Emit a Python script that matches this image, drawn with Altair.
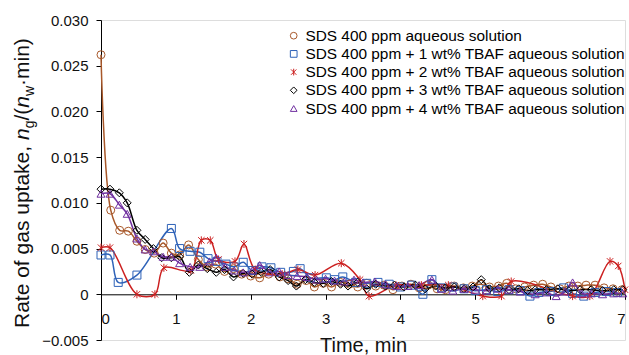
import altair as alt
import pandas as pd

series_names = [
    "SDS 400 ppm aqueous solution",
    "SDS 400 ppm + 1 wt% TBAF aqueous solution",
    "SDS 400 ppm + 2 wt% TBAF aqueous solution",
    "SDS 400 ppm + 3 wt% TBAF aqueous solution",
    "SDS 400 ppm + 4 wt% TBAF aqueous solution",
]

t_sds = [0, 0.13, 0.25, 0.365, 0.48, 0.59, 0.71, 0.83, 0.94, 1.05,
         1.17, 1.3, 1.42, 1.53, 1.65, 1.77, 1.88, 2.0, 2.12, 2.24,
         2.39, 2.5, 2.62, 2.74, 2.85, 2.97, 3.08, 3.2, 3.32, 3.43,
         3.55, 3.67, 3.78, 3.9, 4.02, 4.14, 4.25, 4.37, 4.49, 4.6,
         4.72, 4.84, 4.96, 5.07, 5.19, 5.31, 5.42, 5.54, 5.66, 5.78,
         5.9, 6.01, 6.13, 6.25, 6.37, 6.48, 6.6, 6.72, 6.84, 6.96]
v_sds = [0.0262, 0.0092, 0.0070, 0.0069, 0.0058, 0.0049, 0.0045, 0.0056, 0.0045, 0.0043,
         0.0054, 0.0038, 0.0030, 0.0033, 0.0025, 0.0028, 0.0022, 0.0020, 0.0018, 0.0022,
         0.0019, 0.0017, 0.0011, 0.0015, 0.0008, 0.0012, 0.0008, 0.0013, 0.0011, 0.0008,
         0.0012, 0.0009, 0.0010, 0.0005, 0.0009, 0.0011, 0.0007, 0.0010, 0.0006, 0.0005,
         0.0009, 0.0007, 0.0009, 0.0011, 0.0008, 0.0009, 0.0012, 0.0006, 0.0008, 0.0010,
         0.0011, 0.0008, 0.0006, 0.0009, 0.0009, 0.0010, 0.0010, 0.0007, 0.0006, 0.0005]

t_1 = [0, 0.12, 0.23, 0.48, 0.94, 1.05, 1.19, 1.32, 1.43, 1.55,
       1.67, 1.78, 1.9, 2.02, 2.15, 2.27, 2.4, 2.57, 2.66, 2.8,
       3.01, 3.12, 3.23, 3.4, 3.55, 3.7, 3.85, 4.0, 4.15, 4.3,
       4.42, 4.55, 4.7, 4.85, 5.0, 5.15, 5.3, 5.45, 5.6, 5.73,
       5.85, 6.0, 6.18, 6.3, 6.45, 6.6, 6.75, 6.9]
v_1 = [0.0043, 0.0043, 0.0013, 0.0021, 0.0072, 0.0050, 0.0047, 0.0046, 0.0039, 0.0036,
       0.0033, 0.0030, 0.0035, 0.0026, 0.0030, 0.0029, 0.0024, 0.0025, 0.0028, 0.0018,
       0.0018, 0.0016, 0.0019, 0.0013, 0.0012, 0.0013, 0.0011, 0.0008, 0.0010, 0.0000,
       0.0016, 0.0007, 0.0008, 0.0006, 0.0004, 0.0005, 0.0003, 0.0005, 0.0004, -0.0002,
       0.0002, 0.0003, 0.0007, 0.0001, -0.0002, 0.0002, 0.0003, 0.0002]

t_2 = [0, 0.12, 0.48, 0.72, 0.84, 1.2, 1.34, 1.46, 1.57, 1.79,
       1.91, 2.06, 2.42, 2.63, 2.86, 3.21, 3.46, 3.58, 3.94, 4.28,
       4.64, 5.1, 5.35, 5.48, 6.3, 6.53, 6.8, 6.91, 7.0]
v_2 = [0.0051, 0.0051, 0.0000, 0.0000, 0.0029, 0.0026, 0.0059, 0.0059, 0.0038, 0.0036,
       0.0055, 0.0027, 0.0022, 0.0027, 0.0021, 0.0034, 0.0016, -0.0002, 0.0010, 0.0010,
       0.0010, -0.0002, -0.0002, 0.0014, -0.0002, -0.0002, 0.0036, 0.0031, 0.0005]

t_3 = [0, 0.12, 0.245, 0.35, 0.48, 0.59, 0.70, 0.81, 0.94, 1.05,
       1.18, 1.3, 1.42, 1.54, 1.65, 1.77, 1.9, 2.02, 2.14, 2.26,
       2.38, 2.5, 2.61, 2.73, 2.85, 2.97, 3.08, 3.2, 3.3, 3.43,
       3.55, 3.67, 3.8, 3.92, 4.05, 4.2, 4.33, 4.47, 4.6, 4.72,
       4.85, 4.97, 5.08, 5.19, 5.32, 5.45, 5.58, 5.7, 5.8, 5.95,
       6.1, 6.25, 6.4, 6.55, 6.7, 6.85, 6.97]
v_3 = [0.0115, 0.0115, 0.0111, 0.0100, 0.0070, 0.0060, 0.0050, 0.0040, 0.0040, 0.0041,
       0.0024, 0.0032, 0.0028, 0.0024, 0.0027, 0.0019, 0.0023, 0.0022, 0.0024, 0.0027,
       0.0019, 0.0015, 0.0009, 0.0016, 0.0013, 0.0012, 0.0014, 0.0011, 0.0009, 0.0013,
       0.0006, 0.0011, 0.0009, 0.0010, 0.0008, 0.0010, 0.0006, 0.0009, 0.0007, 0.0008,
       0.0006, 0.0008, 0.0016, 0.0006, 0.0007, 0.0005, 0.0006, 0.0004, 0.0005, 0.0005,
       0.0006, 0.0004, 0.0005, 0.0005, 0.0004, 0.0005, 0.0005]

t_4 = [0, 0.12, 0.245, 0.35, 0.48, 0.59, 0.70, 0.83, 0.94, 1.05,
       1.19, 1.32, 1.45, 1.54, 1.66, 1.78, 1.9, 2.02, 2.12, 2.25,
       2.38, 2.5, 2.62, 2.75, 2.88, 3.0, 3.12, 3.25, 3.38, 3.5,
       3.66, 3.8, 3.95, 4.1, 4.25, 4.42, 4.55, 4.7, 4.85, 5.0,
       5.15, 5.3, 5.45, 5.6, 5.8, 5.95, 6.08, 6.2, 6.3, 6.42,
       6.55, 6.7, 6.85, 6.97]
v_4 = [0.0110, 0.0110, 0.0098, 0.0088, 0.0061, 0.0049, 0.0047, 0.0041, 0.0041, 0.0034,
       0.0030, 0.0030, 0.0036, 0.0040, 0.0030, 0.0026, 0.0024, 0.0026, 0.0032, 0.0024,
       0.0025, 0.0021, 0.0020, 0.0019, 0.0016, 0.0017, 0.0015, 0.0014, 0.0016, 0.0013,
       0.0014, 0.0011, 0.0009, 0.0009, 0.0010, 0.0016, 0.0006, 0.0004, 0.0006, 0.0005,
       0.0004, 0.0006, 0.0005, 0.0003, 0.0000, 0.0002, -0.0002, 0.0003, 0.0013, 0.0001,
       0.0001, 0.0000, 0.0001, 0.0001]

x_ticks = [0, 1, 2, 3, 4, 5, 6, 7]
y_ticks = [-0.005, 0, 0.005, 0.010, 0.015, 0.020, 0.025, 0.030]

title_pieces = ["Rate of gas uptake, ", "n", "g", "/(", "n", "w", "\u00b7min)"]

colors = ["#a8582a", "#2e62b8", "#cc2020", "#000000", "#7030a0"]
star = "M-0.8,-0.8L0.8,0.8M-0.8,0.8L0.8,-0.8M0,-1L0,1"
shapes = ["circle", "square", star, "diamond", "triangle-up"]

rows = []
for name, ts, vs in zip(series_names, [t_sds, t_1, t_2, t_3, t_4], [v_sds, v_1, v_2, v_3, v_4]):
    for t, v in zip(ts, vs):
        rows.append({"series": name, "t": t, "v": v})
df = pd.DataFrame(rows)

FONT = "Liberation Sans"
W, H = 524, 320

xenc = alt.X("t:Q", scale=alt.Scale(domain=[0, 7], nice=False, zero=False),
             axis=alt.Axis(values=x_ticks, format="d", offset=-45.7, grid=False, domainColor="#000",
                           tickColor="#000", tickSize=5, labelPadding=12, labelFontSize=15,
                           labelColor="#111", labelFont=FONT, title="Time, min",
                           titleFont=FONT, titleFontSize=20, titleFontWeight="normal",
                           titleColor="#111", titlePadding=9))
yenc = alt.Y("v:Q", scale=alt.Scale(domain=[-0.005, 0.030], nice=False, zero=False),
             axis=alt.Axis(values=y_ticks, grid=False, domainColor="#000", tickColor="#000",
                           tickSize=5, labelPadding=8, labelFontSize=15, labelColor="#111",
                           labelFont=FONT, title=None,
                           labelExpr="datum.value == 0 ? '0' : replace(format(datum.value, '.3f'), '-', '\u2212')"))

base = alt.Chart(df)
line_layers = []
for name, col in zip(series_names, colors):
    line_layers.append(
        base.transform_filter(alt.datum.series == name)
        .mark_line(interpolate="catmull-rom", strokeWidth=1.5, color=col)
        .encode(x=xenc, y=yenc)
    )

leg = alt.Legend(orient="none", legendX=185, legendY=8, title=None,
                 labelFontSize=15.4, labelFont=FONT, labelColor="#000",
                 labelLimit=500, symbolSize=45, symbolStrokeWidth=1,
                 rowPadding=1.2, labelOffset=4)
points = base.mark_point(filled=False, size=64, strokeWidth=1, opacity=1).encode(
    x="t:Q", y="v:Q",
    color=alt.Color("series:N", scale=alt.Scale(domain=series_names, range=colors), legend=leg),
    shape=alt.Shape("series:N", scale=alt.Scale(domain=series_names, range=shapes), legend=leg),
)

# y-axis title composed of pieces (rotated)
fs = 21
sub = 14
bx = 29 - 101
y0 = 328 - 20
widths = [8.95 * fs, 0.556 * fs, 0.556 * sub, 0.611 * fs, 0.556 * fs, 0.722 * sub, 2.222 * fs]
styles = [("normal", fs, 0), ("italic", fs, 0), ("normal", sub, 5), ("normal", fs, 0),
          ("italic", fs, 0), ("normal", sub, 5), ("normal", fs, 0)]
title_layers = []
pos = y0
one = pd.DataFrame({"a": [0]})
for txt, w, (st, size, dxo) in zip(title_pieces, widths, styles):
    title_layers.append(
        alt.Chart(one).mark_text(text=txt, angle=270, align="left", baseline="alphabetic",
                                 font=FONT, fontSize=size, fontStyle=st, color="#111")
        .encode(x=alt.value(bx + dxo), y=alt.value(pos))
    )
    pos -= w

chart = alt.layer(*line_layers, points, *title_layers).properties(
    width=W, height=H,
    autosize=alt.AutoSizeParams(type="none"),
    padding={"left": 101, "top": 20, "right": 4, "bottom": 15},
).configure_view(stroke=None).configure(font=FONT)

chart.save("out.html", embed_options={"renderer": "svg", "actions": False})
